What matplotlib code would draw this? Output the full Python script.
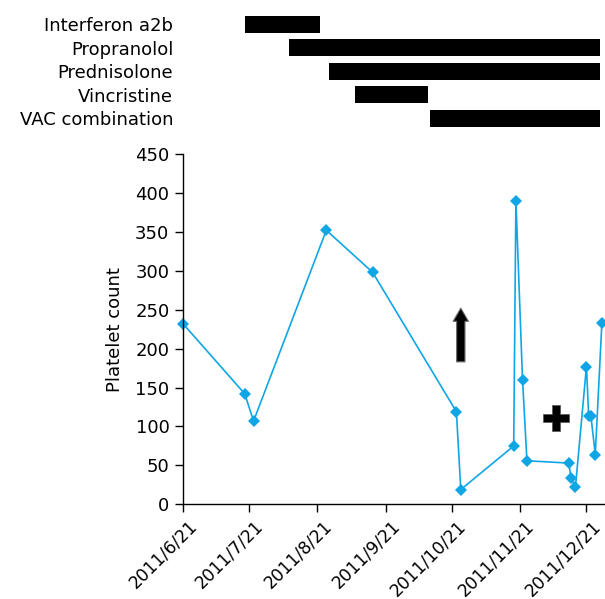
import matplotlib
matplotlib.use("Agg")
import matplotlib.pyplot as plt
import matplotlib.dates as mdates
from matplotlib.transforms import ScaledTranslation
import pandas as pd

# platelet counts over time
dates = ["2011-06-21", "2011-07-19", "2011-07-23", "2011-08-25", "2011-09-15",
         "2011-10-23", "2011-10-25", "2011-11-18", "2011-11-19", "2011-11-22",
         "2011-11-24", "2011-12-13", "2011-12-14", "2011-12-16", "2011-12-21",
         "2011-12-22", "2011-12-23", "2011-12-25", "2011-12-28"]
platelets = [232, 142, 107, 352, 298, 119, 19, 75, 390, 160,
             56, 53, 34, 22, 177, 114, 114, 64, 233]

# treatment periods
drugs = ["Interferon a2b", "Propranolol", "Prednisolone", "Vincristine", "VAC combination"]
drug_start = ["2011-07-19", "2011-08-08", "2011-08-26", "2011-09-07", "2011-10-11"]
drug_end = ["2011-08-22", "2011-12-27", "2011-12-27", "2011-10-10", "2011-12-27"]

tick_dates = ["2011-06-21", "2011-07-21", "2011-08-21", "2011-09-21",
              "2011-10-21", "2011-11-21", "2011-12-21"]
tick_labels = ["2011/6/21", "2011/7/21", "2011/8/21", "2011/9/21",
               "2011/10/21", "2011/11/21", "2011/12/21"]

# event markers
arrow_date = "2011-10-25"
arrow_from, arrow_to = 183, 252
plus_date = "2011-12-07"
plus_value = 111

blue = "#10a6e6"
fs = 13


def dnum(s):
    return mdates.date2num(pd.Timestamp(s))


fig = plt.figure(figsize=(6.05, 5.99), dpi=100)
ax = fig.add_axes([0.3025, 0.158, 0.696, 0.585])
ax_top = fig.add_axes([0.3025, 0.783, 0.696, 0.1965])

xlim = (dnum("2011-06-21"), dnum("2011-12-29"))

# --- treatment bars ---
starts = [dnum(s) for s in drug_start]
widths = [dnum(e) - dnum(s) for s, e in zip(drug_start, drug_end)]
ax_top.barh(range(len(drugs)), widths, left=starts, height=0.72, color="black")
ax_top.set_xlim(*xlim)
ax_top.set_ylim(len(drugs) - 0.5, -0.5)
ax_top.set_yticks(range(len(drugs)))
ax_top.set_yticklabels(drugs, fontsize=fs)
ax_top.tick_params(axis="y", length=0, pad=7)
ax_top.tick_params(axis="x", bottom=False, labelbottom=False)
for s in ax_top.spines.values():
    s.set_visible(False)

# --- platelet line ---
ax.plot([dnum(d) for d in dates], platelets, color=blue, lw=1.2,
        marker="D", ms=6.5, mew=0, clip_on=False)

ax.annotate("", xy=(dnum(arrow_date), arrow_to), xytext=(dnum(arrow_date), arrow_from),
            arrowprops=dict(arrowstyle="simple,head_length=0.95,head_width=1.1,tail_width=0.6",
                            mutation_scale=10, fc="black", ec="#6b6b6b", lw=0.8,
                            shrinkA=0, shrinkB=0))
ax.plot([dnum(plus_date)], [plus_value], marker="P", ms=19, color="black",
        mec="#555555", mew=0.5, ls="none")

ax.set_xlim(*xlim)
ax.set_ylim(0, 450)
ax.set_yticks(range(0, 451, 50))
ax.tick_params(axis="both", direction="out", length=5.5, width=1,
               labelsize=fs, color="black")
ax.set_xticks([dnum(t) for t in tick_dates])
ax.set_xticklabels(tick_labels, rotation=45, ha="right", va="top",
                   rotation_mode="anchor", fontsize=12.3)
ax.tick_params(axis="y", pad=4.3)
ax.tick_params(axis="x", pad=3.5)
ax.spines["top"].set_visible(False)
ax.spines["right"].set_visible(False)
ax.spines["left"].set_linewidth(1)
ax.spines["bottom"].set_linewidth(1)
ax.set_ylabel("Platelet count", fontsize=fs, labelpad=8)

shift = ScaledTranslation(5 / 100, 0, fig.dpi_scale_trans)
for lab in ax.get_xticklabels():
    lab.set_transform(lab.get_transform() + shift)

fig.savefig("out.png", dpi=100, facecolor="white")
